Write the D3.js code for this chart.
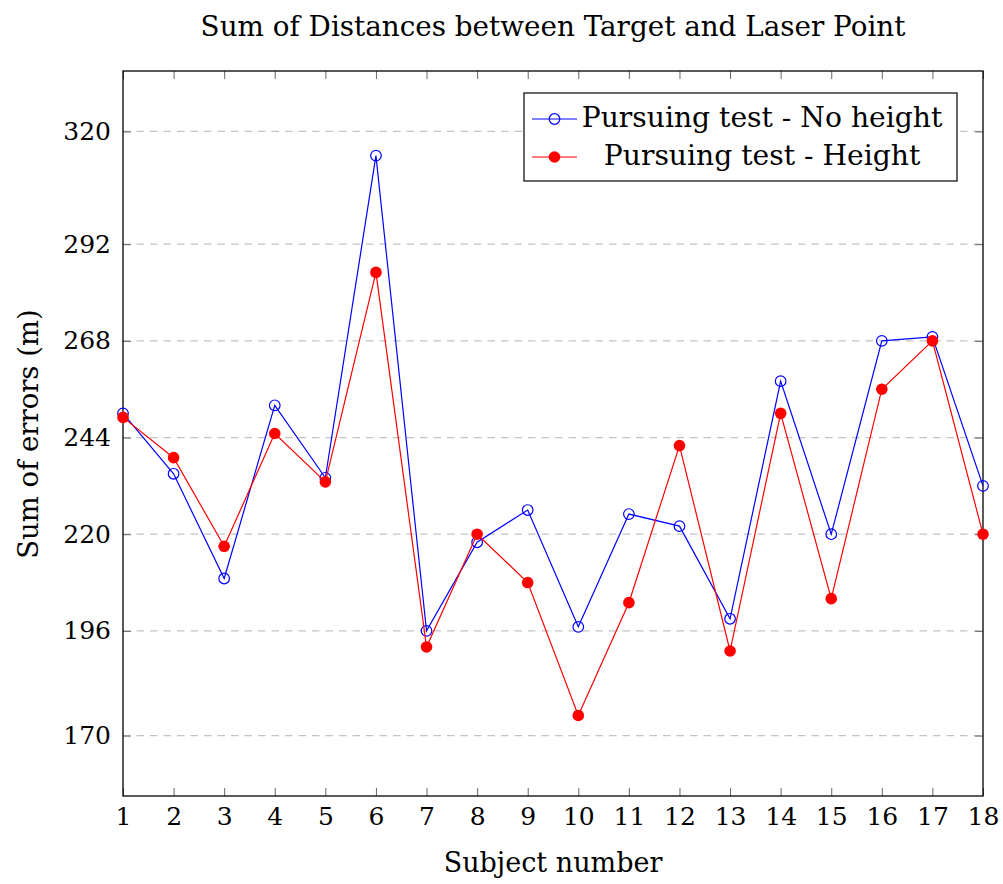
<!DOCTYPE html>
<html>
<head>
<meta charset="utf-8">
<script src="https://cdn.jsdelivr.net/npm/d3@7"></script>
<style>
  body { margin: 0; background: #fff; }
  text { font-family: "DejaVu Serif", serif; fill: #000; }
</style>
</head>
<body>
<script>
// data
var subjects = [1, 2, 3, 4, 5, 6, 7, 8, 9, 10, 11, 12, 13, 14, 15, 16, 17, 18];
var noHeight = [250, 235, 209, 252, 234, 314, 196, 218, 226, 197, 225, 222, 199, 258, 220, 268, 269, 232];
var withHeight = [249, 239, 217, 245, 233, 285, 192, 220, 208, 175, 203, 242, 191, 250, 204, 256, 268, 220];
var yTicks = [170, 196, 220, 244, 268, 292, 320];
var seriesNames = ["Pursuing test - No height", "Pursuing test - Height"];

var W = 1003, H = 884;
var margin = {left: 123, right: 20, top: 71, bottom: 88},
    width = W - margin.left - margin.right,
    height = H - margin.top - margin.bottom;

var svg = d3.select("body").append("svg")
    .attr("width", W)
    .attr("height", H);

var g = svg.append("g")
    .attr("transform", "translate(" + margin.left + "," + margin.top + ")");

var x = d3.scaleLinear().domain([1, 18]).range([0, width]);
var y = d3.scaleLinear().domain([155, 335]).range([height, 0]);

// dashed grid
g.selectAll(".grid")
    .data(yTicks)
  .enter().append("line")
    .attr("x1", 0).attr("x2", width)
    .attr("y1", d => y(d)).attr("y2", d => y(d))
    .attr("stroke", "#c4c4c4")
    .attr("stroke-width", 1.2)
    .attr("stroke-dasharray", "7.5,6");

// axes, ticks pointing inward
function styleAxis(sel) {
  sel.select(".domain").remove();
  sel.selectAll(".tick line").attr("stroke", "#666").attr("stroke-width", 1);
  sel.selectAll(".tick text").style("font-size", "25px").attr("fill", "#000");
}

g.append("g")
    .attr("transform", "translate(0," + height + ")")
    .call(d3.axisBottom(x).tickValues(subjects).tickFormat(d3.format("d")).tickSizeInner(-8).tickSizeOuter(0).tickPadding(11))
    .call(styleAxis);

g.append("g")
    .call(d3.axisTop(x).tickValues(subjects).tickFormat("").tickSizeInner(-8).tickSizeOuter(0))
    .call(styleAxis);

g.append("g")
    .call(d3.axisLeft(y).tickValues(yTicks).tickFormat(d3.format("d")).tickSizeInner(-8).tickSizeOuter(0).tickPadding(12))
    .call(styleAxis);

g.append("g")
    .attr("transform", "translate(" + width + ",0)")
    .call(d3.axisRight(y).tickValues(yTicks).tickFormat("").tickSizeInner(-8).tickSizeOuter(0))
    .call(styleAxis);

// frame
g.append("rect")
    .attr("width", width).attr("height", height)
    .attr("fill", "none")
    .attr("stroke", "#000")
    .attr("stroke-width", 1.3);

var line = d3.line()
    .x((d, i) => x(subjects[i]))
    .y(d => y(d));

// no height series (blue, open circles)
g.append("path")
    .datum(noHeight)
    .attr("d", line)
    .attr("fill", "none")
    .attr("stroke", "#0000ff")
    .attr("stroke-width", 1.2);

g.selectAll(".ptB")
    .data(noHeight)
  .enter().append("circle")
    .attr("cx", (d, i) => x(subjects[i]))
    .attr("cy", d => y(d))
    .attr("r", 5.3)
    .attr("fill", "none")
    .attr("stroke", "#0000ff")
    .attr("stroke-width", 1.2);

// height series (red, filled)
g.append("path")
    .datum(withHeight)
    .attr("d", line)
    .attr("fill", "none")
    .attr("stroke", "#ff0000")
    .attr("stroke-width", 1.2);

g.selectAll(".ptR")
    .data(withHeight)
  .enter().append("circle")
    .attr("cx", (d, i) => x(subjects[i]))
    .attr("cy", d => y(d))
    .attr("r", 5.8)
    .attr("fill", "#ff0000");

// title and axis labels
svg.append("text")
    .attr("x", margin.left + width / 2)
    .attr("y", 36)
    .attr("text-anchor", "middle")
    .style("font-size", "27.8px")
    .text("Sum of Distances between Target and Laser Point");

svg.append("text")
    .attr("x", margin.left + width / 2)
    .attr("y", 872)
    .attr("text-anchor", "middle")
    .style("font-size", "27px")
    .text("Subject number");

svg.append("text")
    .attr("transform", "translate(38,434) rotate(-90)")
    .attr("text-anchor", "middle")
    .style("font-size", "27.5px")
    .text("Sum of errors (m)");

// legend
var leg = svg.append("g").attr("transform", "translate(524,93)");
leg.append("rect")
    .attr("width", 433).attr("height", 88)
    .attr("fill", "#fff")
    .attr("stroke", "#000")
    .attr("stroke-width", 1.2);

var legColors = ["#0000ff", "#ff0000"];
seriesNames.forEach(function(name, i) {
  var ly = 26 + i * 38;
  leg.append("line")
      .attr("x1", 8).attr("x2", 53)
      .attr("y1", ly).attr("y2", ly)
      .attr("stroke", legColors[i])
      .attr("stroke-width", 1.2);
  var c = leg.append("circle")
      .attr("cx", 30.5).attr("cy", ly)
      .attr("r", i == 0 ? 5.3 : 5.8);
  if (i == 0) c.attr("fill", "none").attr("stroke", legColors[i]).attr("stroke-width", 1.2);
  else c.attr("fill", legColors[i]);
  leg.append("text")
      .attr("x", 238)
      .attr("y", ly + 8)
      .attr("text-anchor", "middle")
      .style("font-size", "28.2px")
      .text(name);
});
</script>
</body>
</html>
